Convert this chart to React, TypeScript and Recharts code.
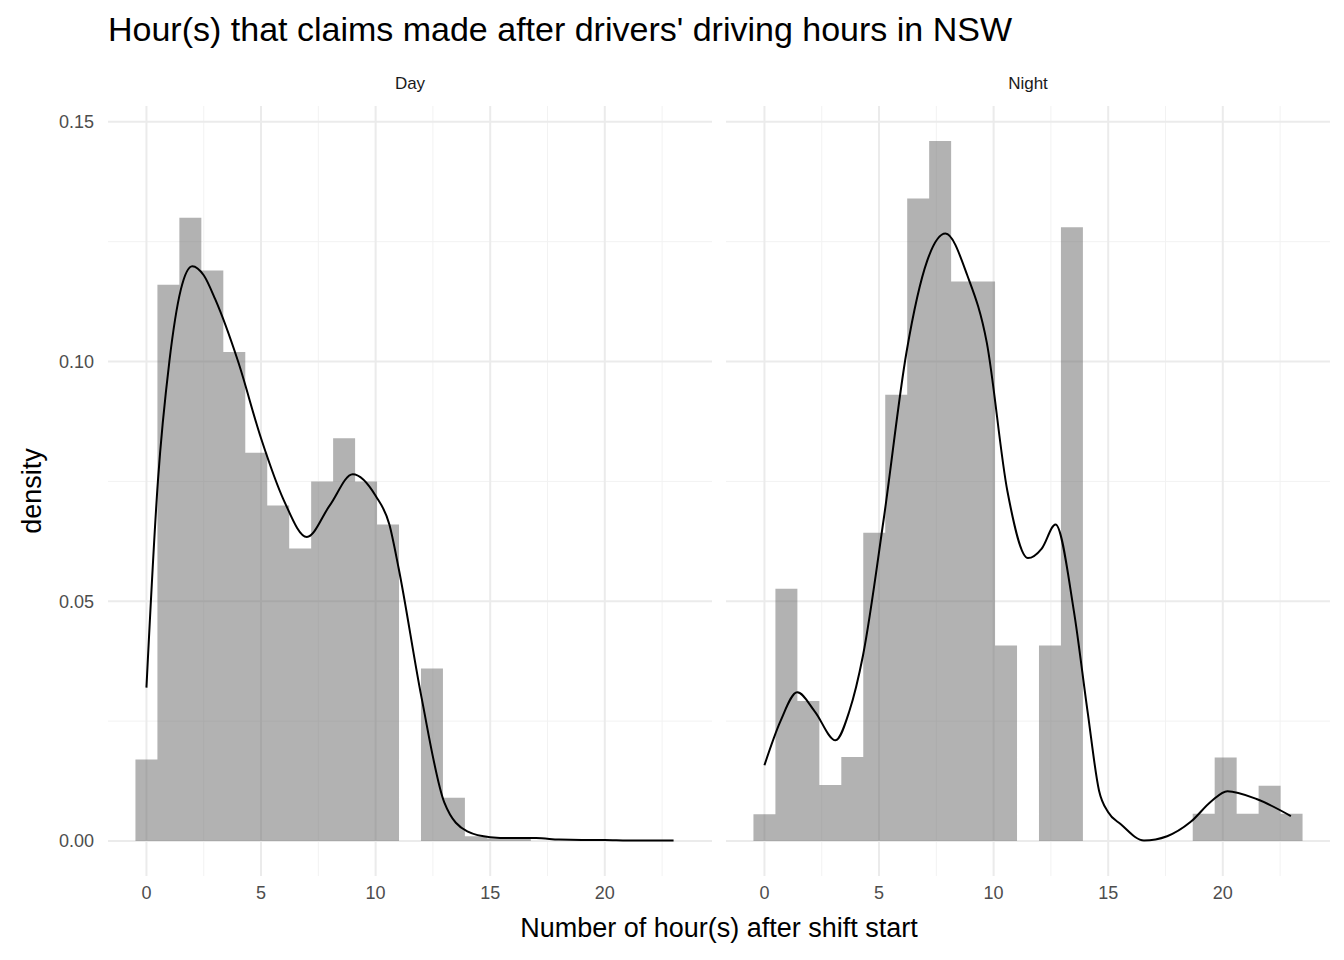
import React from "react";
import { ComposedChart, Area, Line, XAxis, YAxis, CartesianGrid } from "recharts";

const binWidth = 23 / 24;
const dayHist = [0.017, 0.116, 0.130, 0.119, 0.102, 0.081, 0.070, 0.061, 0.075, 0.084, 0.075, 0.066, 0, 0.036, 0.009, 0.001, 0.0005, 0.0005, 0, 0, 0, 0, 0, 0, 0];
const nightHist = [0.0056, 0.0526, 0.0292, 0.0117, 0.0175, 0.0643, 0.0931, 0.134, 0.146, 0.1167, 0.1167, 0.0408, 0, 0.0408, 0.128, 0, 0, 0, 0, 0, 0.0057, 0.0174, 0.0057, 0.0115, 0.0057];

const dayDensX = [0, 0.5, 1, 1.5, 2, 2.5, 3, 4, 5, 6, 7, 8, 9, 10, 10.6, 11, 12, 13, 14, 15, 16, 17, 18, 19, 20, 21, 22, 23];
const dayDensY = [0.032, 0.075, 0.1, 0.115, 0.1199, 0.118, 0.113, 0.1, 0.084, 0.071, 0.0634, 0.07, 0.0765, 0.072, 0.066, 0.057, 0.03, 0.008, 0.002, 0.0008, 0.0006, 0.0006, 0.0003, 0.0002, 0.0002, 0.0001, 0.0001, 0.0001];
const nightDensX = [0, 0.7, 1.43, 2.2, 3.1, 3.7, 4.3, 5.2, 6.2, 7.1, 7.9, 8.85, 9.7, 10.6, 11.5, 12.1, 12.7, 13.5, 14.1, 14.6, 15.0, 15.55, 16.56, 17.57, 18.6, 19.5, 20.2, 21.5, 22.97];
const nightDensY = [0.0158, 0.025, 0.031, 0.027, 0.021, 0.027, 0.0387, 0.067, 0.102, 0.121, 0.1267, 0.118, 0.104, 0.073, 0.059, 0.061, 0.066, 0.048, 0.027, 0.0105, 0.006, 0.0035, 0.0001, 0.001, 0.004, 0.0083, 0.0104, 0.0087, 0.0052];

const xTicks = [0, 5, 10, 15, 20];
const xMinor = [2.5, 7.5, 12.5, 17.5, 22.5];
const yTicks = [0, 0.05, 0.1, 0.15];
const yMinor = [0.025, 0.075, 0.125];
const xDomain = [-1.677, 24.677];
const yDomain = [-0.0073, 0.1533];

function build(hist: number[], dx: number[], dy: number[]) {
  const rows: any[] = [];
  hist.forEach((v, k) => rows.push({ x: (k - 0.5) * binWidth, h: v, d: null }));
  rows.push({ x: (hist.length - 0.5) * binWidth, h: 0, d: null });
  dx.forEach((x, i) => rows.push({ x, h: null, d: dy[i] }));
  return rows.sort((a, b) => a.x - b.x);
}

const font = "'Liberation Sans', Arial, sans-serif";
const tick = { fill: "#4D4D4D", fontSize: 18, fontFamily: font };

function Panel({ data, showY, width, left, label }: any) {
  return (
    <div style={{ position: "absolute", left, top: 106 }}>
      <div style={{ position: "absolute", top: -32, left: showY ? 108 : 0, width: 604, textAlign: "center", fontSize: 17, color: "#1A1A1A", fontFamily: font }}>{label}</div>
      <ComposedChart width={width} height={805} data={data} margin={{ top: 0, right: 0, bottom: 0, left: 0 }}>
        <CartesianGrid horizontalValues={yMinor} verticalValues={xMinor} stroke="#F2F2F2" strokeWidth={1} />
        <CartesianGrid horizontalValues={yTicks} verticalValues={xTicks} stroke="#EBEBEB" strokeWidth={2} />
        <XAxis dataKey="x" type="number" domain={xDomain} ticks={xTicks} allowDataOverflow axisLine={false} tickLine={false} tick={tick} height={35} tickMargin={4} />
        <YAxis type="number" domain={yDomain} ticks={yTicks} allowDataOverflow axisLine={false} tickLine={false} tick={tick} width={108} hide={!showY} tickFormatter={(v: number) => v.toFixed(2)} tickMargin={8} />
        <Area dataKey="h" type="stepAfter" baseValue={0} fill="#666666" fillOpacity={0.5} stroke="none" connectNulls isAnimationActive={false} />
        <Line dataKey="d" type="monotone" stroke="#000" strokeWidth={2} dot={false} connectNulls isAnimationActive={false} />
      </ComposedChart>
    </div>
  );
}

export default function App() {
  const day = build(dayHist, dayDensX, dayDensY);
  const night = build(nightHist, nightDensX, nightDensY);
  return (
    <div style={{ position: "fixed", left: 0, top: 0, width: 1344, height: 960, background: "#fff", fontFamily: font }}>
      <div style={{ position: "absolute", left: 108, top: 10, fontSize: 34, color: "#000" }}>Hour(s) that claims made after drivers' driving hours in NSW</div>
      <Panel data={day} showY width={712} left={0} label="Day" />
      <Panel data={night} showY={false} width={604} left={726} label="Night" />
      <div style={{ position: "absolute", left: 108, top: 913, width: 1222, textAlign: "center", fontSize: 27, color: "#000" }}>Number of hour(s) after shift start</div>
      <div style={{ position: "absolute", left: 32, top: 491, transform: "translate(-50%, -50%) rotate(-90deg)", fontSize: 27, color: "#000", whiteSpace: "nowrap" }}>density</div>
    </div>
  );
}
